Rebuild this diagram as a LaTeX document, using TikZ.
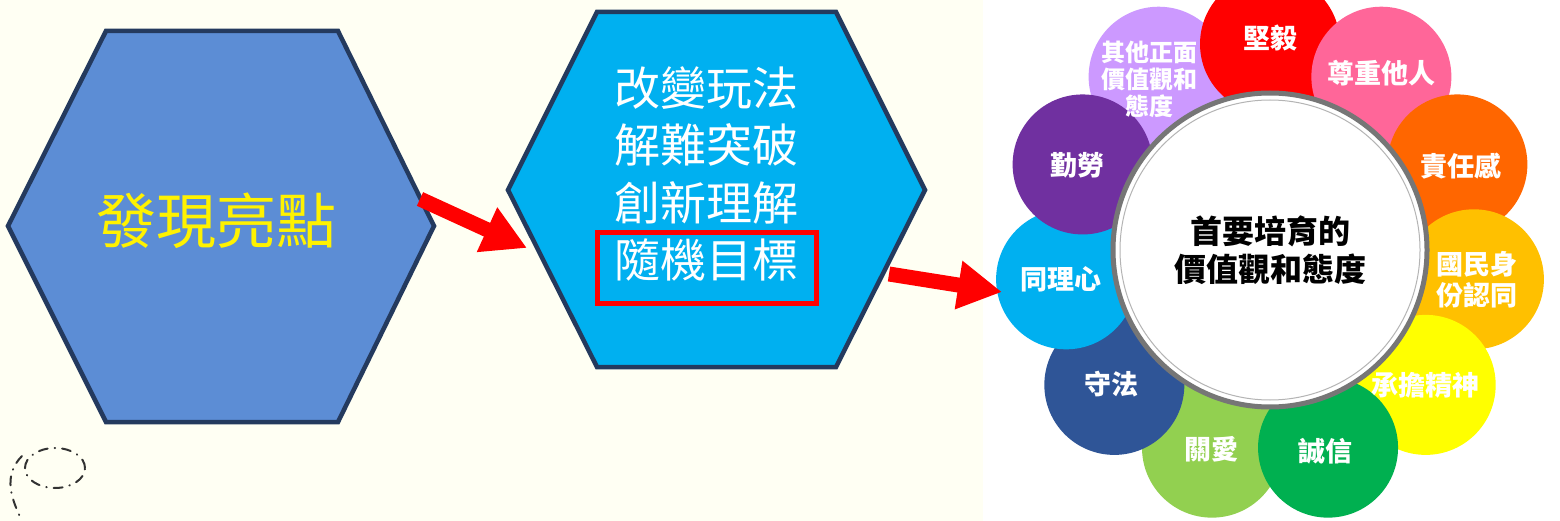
\documentclass[tikz,border=0pt]{standalone}
\usepackage{fontspec}
\newfontfamily\cjk{Noto Sans CJK TC}
\usetikzlibrary{arrows.meta,calc,positioning}
\definecolor{cream}{RGB}{255,255,243}
\definecolor{hexline}{RGB}{36,58,94}
\definecolor{hexblue}{RGB}{92,141,213}
\definecolor{hexcyan}{RGB}{0,176,240}
\definecolor{markred}{RGB}{255,0,0}
\definecolor{ringgray}{RGB}{118,118,118}
\definecolor{petalred}{RGB}{255,0,0}
\definecolor{petalpink}{RGB}{255,102,153}
\definecolor{petalorange}{RGB}{255,102,0}
\definecolor{petalamber}{RGB}{255,192,0}
\definecolor{petalyellow}{RGB}{255,255,0}
\definecolor{petalgreen}{RGB}{0,176,80}
\definecolor{petallime}{RGB}{146,208,80}
\definecolor{petalnavy}{RGB}{47,85,151}
\definecolor{petalcyan}{RGB}{0,176,240}
\definecolor{petalpurple}{RGB}{112,48,160}
\definecolor{petallilac}{RGB}{204,153,255}
\definecolor{doodlegray}{RGB}{50,50,50}
\begin{document}
\begin{tikzpicture}[
    x=1pt, y=-1pt,
    hexshape/.style={
        draw=hexline,
        line width=4.5pt,
        line join=miter},
    hextext/.style={
        inner sep=0pt,
        align=center,
        font=\cjk\fontsize{46}{57.3}\selectfont},
    petal/.style={
        circle,
        inner sep=0pt,
        minimum size=140pt},
    petaltext/.style={
        inner sep=0pt,
        align=center,
        text=white},
    redarrow/.style={
        -{Triangle[width=46pt,length=44pt]},
        line width=15pt,
        draw=markred},
    doodle/.style={
        draw=doodlegray,
        line width=2pt,
        line cap=round,
        dash pattern=on 9pt off 7pt on 0.5pt off 7pt}
]

\clip (0,0) rectangle (1560,521);
\fill[cream] (0,0) rectangle (983,521);
\fill[white] (983,0) rectangle (1560,521);

% left hexagons
\draw[hexshape, fill=hexblue] (8,226) -- (106,31) -- (338,31) -- (434,226)
    -- (338,422) -- (106,422) -- cycle;
\node[hextext, text=yellow, font=\cjk\fontsize{60}{60}\selectfont] (find) at (216,221) {發現亮點};

\draw[hexshape, fill=hexcyan] (508,190) -- (597,12) -- (836,12) -- (925,190)
    -- (836,367) -- (597,367) -- cycle;
\node[hextext, text=white] (ways) at (706,174) {改變玩法\\解難突破\\創新理解\\隨機目標};
\node[draw=markred, line width=5pt, minimum width=219pt, minimum height=70pt] (target) at (706.5,268) {};

% doodle
\draw[doodle] (55,468) ellipse (30pt and 20pt);
\draw[doodle] (22,456) .. controls (2,476) and (12,500) .. (22,521);

% flower
\coordinate (ctr) at (1270,250);
\foreach \k/\c in {6/petallime, 7/petalnavy, 8/petalcyan, 10/petallilac,
    9/petalpurple, 0/petalred, 1/petalpink, 2/petalorange, 3/petalamber,
    4/petalyellow, 5/petalgreen}{
    \node[petal, fill=\c] (p\k) at ($(ctr)+(-90+\k*32.727:206)$) {};
}
\foreach \k/\t/\s/\b/\dx/\dy in {0/堅毅/27/31/0/-6, 1/尊重他人/27/31/0/-4,
    2/責任感/27/31/4/2, 3/{國民身\\份認同}/27/31/3/0, 4/承擔精神/27/31/0/0,
    5/誠信/27/31/-3/4, 6/關愛/27/31/0/2, 7/守法/27/31/-3/-1, 8/同理心/27/31/-5/0,
    9/勤勞/27/31/-5/1, 10/{其他正面\\價值觀和\\態度}/24/27/-9/3}{
    \node[petaltext, font=\cjk\bfseries\fontsize{\s}{\b}\selectfont] (t\k)
        at ([shift={(\dx,\dy)}]p\k) {\t};
}

\node[circle, draw=ringgray, line width=5pt, fill=white, minimum size=314pt,
    align=center, font=\cjk\bfseries\fontsize{32}{38}\selectfont] (core) at (ctr)
    {首要培育的\\價值觀和態度};
\draw[ringgray!55, line width=1pt] (ctr) circle (150pt);

% arrows
\coordinate (a1s) at (420,199);
\coordinate (a1e) at (527,248);
\coordinate (a2s) at (889,274);
\coordinate (a2e) at (1002,292);
\draw[redarrow] (a1s) -- (a1e);
\draw[redarrow] (a2s) -- (a2e);

\end{tikzpicture}
\end{document}
